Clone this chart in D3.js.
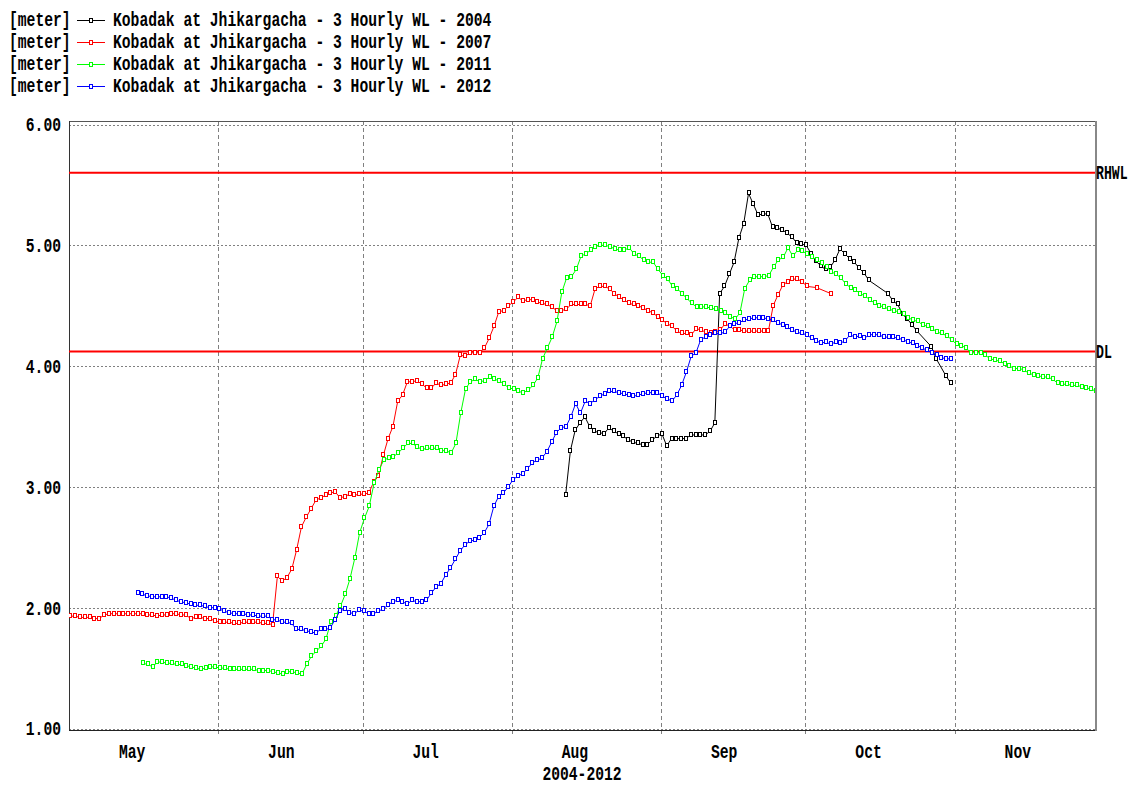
<!DOCTYPE html>
<html>
<head>
<meta charset="utf-8">
<script src="https://cdn.jsdelivr.net/npm/d3@7"></script>
<style>
  html, body { margin: 0; padding: 0; background: #fff; }
  svg { display: block; }
</style>
</head>
<body>
<svg id="chart" width="1136" height="786"></svg>
<script>
// ---- data -------------------------------------------------------------
const unitLabel = "[meter]";
const stationTitle = "Kobadak at Jhikargacha - 3 Hourly WL - ";
const seriesYears = ["2004", "2007", "2011", "2012"];
const seriesColors = ["#000000", "#ff0000", "#00ff00", "#0000ff"];
// first reading of each year, mapped onto a common May–Nov season axis
const seriesStarts = ["2011-08-12T04:00", "2011-05-01T07:00", "2011-05-16T09:00", "2011-05-15T06:00"];

// daily water level readings (m); null = missing day
const wl2004 = [
  2.93,3.30,3.47,3.53,3.58,3.50,3.46,3.45,3.44,3.49,
  3.46,3.44,3.42,3.39,3.37,3.36,3.35,3.35,3.39,3.42,
  3.44,3.34,3.40,3.40,3.40,3.40,3.43,3.43,3.43,3.43,
  3.46,3.53,4.60,4.66,4.76,4.86,5.06,5.18,5.43,5.34,
  5.25,5.26,5.26,5.15,5.14,5.13,5.10,5.07,5.02,5.01,
  5.00,4.93,4.87,4.83,4.80,4.82,4.88,4.97,4.93,4.89,
  4.86,4.81,4.77,4.71,null,null,null,4.60,4.54,4.51,
  4.43,4.39,4.34,4.29,null,null,4.16,4.06,null,3.92,3.86
];
const wl2007 = [
  1.93,1.93,1.92,1.92,1.92,1.91,1.91,1.94,1.95,1.95,
  1.95,1.95,1.95,1.95,1.95,1.95,1.94,1.94,1.93,1.94,
  1.94,1.95,1.95,1.94,1.94,1.91,1.92,1.92,1.91,1.91,
  1.89,1.88,1.88,1.88,1.87,1.87,1.88,1.88,1.88,1.88,
  1.87,1.87,1.86,2.26,2.22,2.25,2.32,2.48,2.67,2.75,
  2.82,2.89,2.91,2.93,2.95,2.96,2.91,2.92,2.94,2.93,
  2.94,2.94,2.95,3.04,3.09,3.26,3.40,3.50,3.71,3.76,
  3.87,3.87,3.88,3.85,3.82,3.82,3.86,3.84,3.85,3.86,
  3.93,4.09,4.08,4.11,4.11,4.11,4.15,4.23,4.33,4.45,
  4.46,4.50,4.53,4.57,4.54,4.55,4.55,4.53,4.52,4.51,
  4.49,4.46,4.46,4.47,4.51,4.51,4.51,4.51,4.50,4.64,
  4.66,4.66,4.64,4.60,4.57,4.55,4.52,4.51,4.50,4.48,
  4.46,4.44,4.41,4.38,4.35,4.33,4.29,4.27,4.27,4.26,
  4.31,4.30,4.28,4.27,4.28,4.30,4.35,4.33,4.30,4.30,
  4.29,4.29,4.29,4.29,4.29,4.29,4.50,4.59,4.67,4.70,
  4.72,4.72,4.70,4.66,null,4.65,null,null,4.60
];
const wl2011 = [
  1.54,1.53,1.51,1.55,1.55,1.54,1.54,1.53,1.53,1.52,
  1.51,1.50,1.49,1.50,1.51,1.51,1.50,1.50,1.49,1.49,
  1.49,1.49,1.49,1.49,1.48,1.48,1.48,1.47,1.46,1.45,
  1.47,1.47,1.46,1.45,1.53,1.60,1.64,1.68,1.74,1.88,
  1.93,2.01,2.11,2.24,2.41,2.62,2.74,2.84,3.03,3.14,
  3.22,3.24,3.25,3.28,3.32,3.36,3.36,3.33,3.31,3.32,
  3.32,3.32,3.30,3.30,3.28,3.36,3.61,3.81,3.87,3.89,
  3.87,3.88,3.91,3.89,3.88,3.85,3.82,3.81,3.79,3.78,
  3.80,3.84,3.90,4.06,4.15,4.24,4.37,4.61,4.73,4.74,
  4.80,4.91,4.93,4.96,4.99,5.00,5.00,4.99,4.97,4.96,
  4.96,4.98,4.93,4.91,4.88,4.86,4.86,4.80,4.75,4.72,
  4.66,4.64,4.60,4.56,4.52,4.49,4.49,4.49,4.48,4.47,
  4.46,4.44,4.41,4.39,4.44,4.64,4.71,4.74,4.74,4.74,
  4.75,4.82,4.88,4.90,4.98,4.91,4.96,4.95,4.93,4.90,
  4.88,4.85,4.82,4.78,4.76,4.73,4.68,4.65,4.63,4.60,
  4.58,4.55,4.52,4.50,4.49,4.47,4.46,4.45,4.43,4.40,
  4.38,4.37,4.34,4.33,4.31,4.28,4.27,4.25,4.22,4.18,
  4.17,4.15,4.11,4.11,4.11,4.09,4.06,4.05,4.04,4.02,
  4.00,3.98,3.98,3.97,3.94,3.93,3.92,3.91,3.91,3.89,
  3.86,3.85,3.85,3.84,3.84,3.83,3.82,3.81,3.79
];
const wl2012 = [
  2.12,2.11,2.10,2.09,2.09,2.09,2.09,2.08,2.06,2.05,
  2.04,2.03,2.02,2.02,2.01,2.00,2.00,1.99,1.97,1.96,
  1.95,1.95,1.95,1.94,1.94,1.93,1.93,1.93,1.90,1.90,
  1.88,1.88,1.87,1.82,1.82,1.81,1.80,1.79,1.82,1.82,
  1.83,1.90,1.97,1.99,1.96,1.95,1.98,1.97,1.95,1.95,
  1.97,1.99,2.02,2.05,2.06,2.05,2.03,2.06,2.05,2.05,
  2.06,2.12,2.17,2.20,2.27,2.33,2.40,2.47,2.52,2.55,
  2.56,2.58,2.62,2.69,2.84,2.92,2.95,3.00,3.06,3.09,
  3.11,3.15,3.20,3.22,3.24,3.29,3.37,3.45,3.49,3.50,
  3.58,3.69,3.61,3.71,3.69,3.72,3.75,3.77,3.79,3.79,
  3.78,3.77,3.76,3.75,3.76,3.77,3.78,3.78,3.78,3.75,
  3.73,3.71,3.76,3.84,3.95,4.08,4.11,4.22,4.24,4.26,
  4.27,4.27,4.28,4.33,4.35,4.36,4.38,4.39,4.40,4.40,
  4.40,4.39,4.38,4.36,4.34,4.32,4.30,4.28,4.27,4.26,
  4.23,4.21,4.19,4.20,4.18,4.20,4.19,4.21,4.26,4.24,
  4.25,4.23,4.26,4.26,4.26,4.24,4.24,4.24,4.23,4.22,
  4.20,4.19,4.17,4.15,4.13,4.11,4.09,4.07,4.06,4.06
];
const seriesValues = [wl2004, wl2007, wl2011, wl2012];

// reference water levels
const refNames = ["RHWL", "DL"];
const refValues = [5.60, 4.12];

const yTicks = [1, 2, 3, 4, 5, 6];
const monthNames = ["May", "Jun", "Jul", "Aug", "Sep", "Oct", "Nov"];
const axisTitle = "2004-2012";
const seasonStart = "2011-05-01T00:00";
const seasonEnd = "2011-11-30T00:00";

// ---- layout -----------------------------------------------------------
const plotLeft = 69, plotRight = 1095, plotTop = 121, plotBottom = 730;
const FONT = "'Liberation Mono', 'DejaVu Sans Mono', monospace";
const CHAR_W = 8.8;

const parse = d3.utcParse("%Y-%m-%dT%H:%M");
const x = d3.scaleUtc().domain([parse(seasonStart), parse(seasonEnd)]).range([plotLeft, plotRight - 0.7]);
const y = d3.scaleLinear().domain([1, 6]).range([728.5, 124.5]);

const svg = d3.select("#chart");
svg.append("rect").attr("width", 1136).attr("height", 786).attr("fill", "#fff");

function styleText(sel) {
  sel.attr("font-family", FONT)
     .attr("font-size", 20)
     .attr("font-weight", "bold")
     .attr("fill", "#000")
     .attr("lengthAdjust", "spacingAndGlyphs")
     .attr("textLength", function () { return this.textContent.length * CHAR_W; });
}

// ---- grid -------------------------------------------------------------
const grid = svg.append("g").attr("shape-rendering", "crispEdges");
grid.selectAll("line.h").data(yTicks).join("line")
  .attr("x1", plotLeft).attr("x2", plotRight)
  .attr("y1", d => Math.round(y(d)) + 0.5).attr("y2", d => Math.round(y(d)) + 0.5)
  .attr("stroke", "#808080").attr("stroke-width", 1).attr("stroke-dasharray", "2,2");

const monthStarts = d3.utcMonth.range(parse(seasonStart), d3.utcDay.offset(parse(seasonEnd), 1));
grid.selectAll("line.v").data(monthStarts.slice(1)).join("line")
  .attr("x1", d => Math.round(x(d)) + 0.5).attr("x2", d => Math.round(x(d)) + 0.5)
  .attr("y1", plotTop).attr("y2", plotBottom + 4)
  .attr("stroke", "#808080").attr("stroke-width", 1).attr("stroke-dasharray", "4,3");

// ---- frame ------------------------------------------------------------
const frame = svg.append("g").attr("shape-rendering", "crispEdges");
frame.append("line").attr("x1", plotLeft).attr("x2", plotRight).attr("y1", plotTop + 0.5).attr("y2", plotTop + 0.5)
  .attr("stroke", "#555").attr("stroke-width", 1);
frame.append("line").attr("x1", plotRight + 0.5).attr("x2", plotRight + 0.5).attr("y1", plotTop).attr("y2", plotBottom + 1)
  .attr("stroke", "#888").attr("stroke-width", 2);
frame.append("line").attr("x1", plotLeft + 0.5).attr("x2", plotLeft + 0.5).attr("y1", plotTop).attr("y2", plotBottom + 1)
  .attr("stroke", "#333").attr("stroke-width", 1.5);
frame.append("line").attr("x1", plotLeft).attr("x2", plotRight).attr("y1", plotBottom + 0.5).attr("y2", plotBottom + 0.5)
  .attr("stroke", "#222").attr("stroke-width", 1.5);

// ---- axes labels ------------------------------------------------------
const yAxis = svg.append("g").attr("transform", `translate(${plotLeft},0)`)
  .call(d3.axisLeft(y).tickValues(yTicks).tickSize(0).tickPadding(8).tickFormat(d3.format(".2f")));
yAxis.select(".domain").remove();
yAxis.selectAll("text").attr("dy", "0.32em").call(styleText);

const labelDates = monthStarts.map(m => d3.utcDay.offset(m, 13));
const xAxis = svg.append("g").attr("transform", `translate(0,${plotBottom})`)
  .call(d3.axisBottom(x).tickValues(labelDates).tickSize(0).tickFormat(d3.utcFormat("%b")));
xAxis.select(".domain").remove();
xAxis.selectAll("text").text((d, i) => monthNames[i]).attr("y", 21.5).attr("dy", "0.32em").call(styleText);

svg.append("text").attr("x", (plotLeft + plotRight) / 2).attr("y", 773.5).attr("dy", "0.32em")
  .attr("text-anchor", "middle").text(axisTitle).call(styleText);

// ---- reference levels -------------------------------------------------
const refs = svg.append("g");
refValues.forEach((v, i) => {
  refs.append("line").attr("x1", plotLeft).attr("x2", plotRight)
    .attr("y1", y(v)).attr("y2", y(v))
    .attr("stroke", "#ff0000").attr("stroke-width", 2);
  // narrow label squeezed into the right margin
  refs.append("text")
    .attr("transform", `translate(${plotRight + 1},${y(v)}) scale(0.66,1)`)
    .attr("dy", "0.32em")
    .attr("font-family", FONT).attr("font-size", 20).attr("font-weight", "bold").attr("fill", "#000")
    .text(refNames[i]);
});

// ---- series -----------------------------------------------------------
svg.append("clipPath").attr("id", "plotClip")
  .append("rect").attr("x", plotLeft).attr("y", plotTop)
  .attr("width", plotRight - plotLeft).attr("height", plotBottom - plotTop);

const line = d3.line().x(d => x(d.date)).y(d => y(d.value));
const plot = svg.append("g").attr("clip-path", "url(#plotClip)");

seriesValues.forEach((vals, s) => {
  const start = parse(seriesStarts[s]);
  const pts = vals.map((v, i) => ({ date: d3.utcDay.offset(start, i), value: v }))
                  .filter(d => d.value !== null);
  const g = plot.append("g");
  g.append("path").datum(pts).attr("d", line)
    .attr("fill", "none").attr("stroke", seriesColors[s]).attr("stroke-width", 1);
  g.selectAll("rect").data(pts).join("rect")
    .attr("x", d => Math.round(x(d.date)) - 1.5)
    .attr("y", d => Math.round(y(d.value)) - 2.5)
    .attr("width", 3).attr("height", 4)
    .attr("fill", "#fff").attr("stroke", seriesColors[s]).attr("stroke-width", 1)
    .attr("shape-rendering", "crispEdges");
});

// ---- legend -----------------------------------------------------------
const legend = svg.append("g");
seriesYears.forEach((yr, i) => {
  const cy = 20 + i * 22;
  legend.append("text").attr("x", 9).attr("y", cy).attr("dy", "0.32em").text(unitLabel).call(styleText);
  legend.append("line").attr("x1", 77).attr("x2", 105).attr("y1", cy + 0.5).attr("y2", cy + 0.5)
    .attr("stroke", seriesColors[i]).attr("stroke-width", 1).attr("shape-rendering", "crispEdges");
  legend.append("rect").attr("x", 89.5).attr("y", cy - 1.5).attr("width", 3).attr("height", 4)
    .attr("fill", "#fff").attr("stroke", seriesColors[i]).attr("stroke-width", 1)
    .attr("shape-rendering", "crispEdges");
  legend.append("text").attr("x", 113).attr("y", cy).attr("dy", "0.32em")
    .text(stationTitle + yr).call(styleText);
});
</script>
</body>
</html>
